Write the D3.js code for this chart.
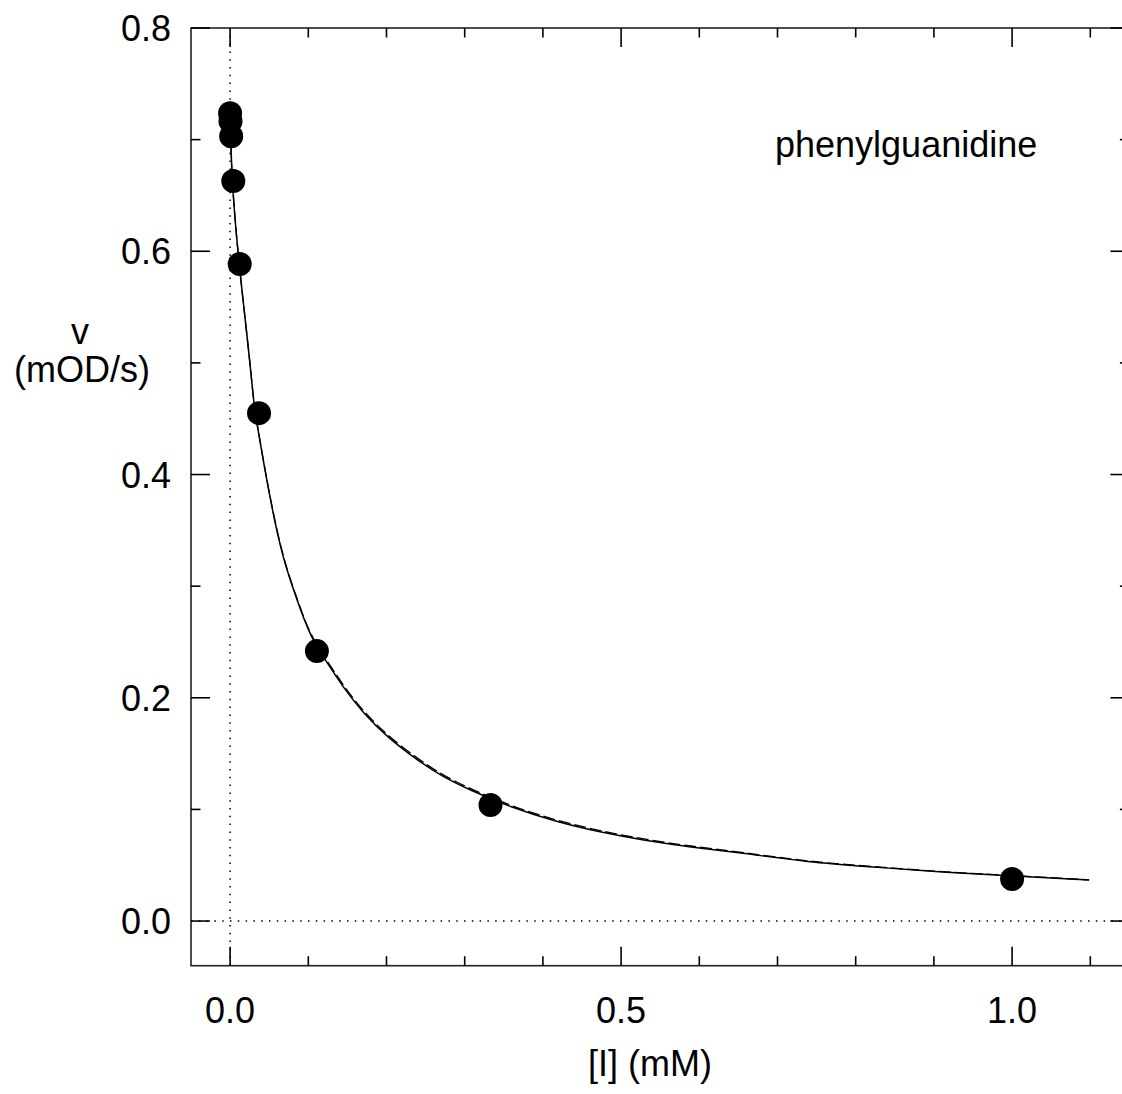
<!DOCTYPE html>
<html>
<head>
<meta charset="utf-8">
<script src="https://cdn.jsdelivr.net/npm/d3@7"></script>
<style>
  body { margin: 0; background: #fff; }
  svg text { font-family: "Liberation Sans", Arial, sans-serif; fill: #000; }
</style>
</head>
<body>
<svg id="chart" width="1122" height="1094"></svg>
<script>
// measured points: inhibitor concentration (mM) vs rate (mOD/s)
var conc = [0, 0.0005, 0.00137, 0.0041, 0.0123, 0.037, 0.111, 0.333, 1.0];
var rate = [0.7237, 0.7165, 0.703, 0.663, 0.5885, 0.455, 0.2418, 0.104, 0.0376];

// fitted curves
var fitX = [0, 0.0013, 0.0026, 0.0075, 0.0115, 0.0137, 0.0256, 0.0307, 0.0358, 0.0512, 0.0678,
  0.0857, 0.1023, 0.1279, 0.1445, 0.1701, 0.2008, 0.2391, 0.2724, 0.3069, 0.3581, 0.4182,
  0.4731, 0.5281, 0.5882, 0.656, 0.7379, 0.8223, 0.9079, 0.9847, 1.0985];
var fitSolid = [0.722, 0.69, 0.663, 0.618, 0.590, 0.574, 0.4998, 0.4604, 0.4398, 0.3771, 0.3233,
  0.2875, 0.2544, 0.2275, 0.2096, 0.1863, 0.1648, 0.1442, 0.129, 0.1173, 0.1021, 0.0887,
  0.0797, 0.0725, 0.0663, 0.0609, 0.0528, 0.0484, 0.0439, 0.0412, 0.0367];
var fitDashed = [0.722, 0.69, 0.663, 0.618, 0.590, 0.574, 0.4998, 0.4606, 0.4402, 0.3778, 0.3243,
  0.2888, 0.2558, 0.2292, 0.2113, 0.1879, 0.1664, 0.1457, 0.1304, 0.1186, 0.1033, 0.0898,
  0.0807, 0.0734, 0.0671, 0.0615, 0.0533, 0.0488, 0.0442, 0.0414, 0.0369];

var xMajor = [0, 0.5, 1.0];
var xMinor = [0.1, 0.2, 0.3, 0.4, 0.6, 0.7, 0.8, 0.9, 1.1];
var yMajor = [0, 0.2, 0.4, 0.6, 0.8];
var yMinor = [0.1, 0.3, 0.5, 0.7];

var svg = d3.select("#chart");
var x = d3.scaleLinear().domain([-0.05, 1.15]).range([191, 1129.4]);
var y = d3.scaleLinear().domain([-0.04, 0.8]).range([965.7, 28]);
var x0 = x.range()[0], x1 = x.range()[1], y0 = y.range()[1], y1 = y.range()[0];

// zero lines (dotted)
svg.append("line").attr("x1", x(0)).attr("x2", x(0)).attr("y1", y0).attr("y2", y1)
  .attr("stroke", "#000").attr("stroke-width", 1.5).attr("stroke-dasharray", "1.5,6.3");
svg.append("line").attr("x1", x0).attr("x2", x1).attr("y1", y(0)).attr("y2", y(0))
  .attr("stroke", "#000").attr("stroke-width", 1.5).attr("stroke-dasharray", "1.5,6.3");

// frame
svg.append("rect").attr("x", x0).attr("y", y0).attr("width", x1 - x0).attr("height", y1 - y0)
  .attr("fill", "none").attr("stroke", "#222").attr("stroke-width", 1.6);

// inward ticks on all four sides
var ticks = svg.append("g").attr("stroke", "#000").attr("stroke-width", 1.6);
function xTicks(vals, len) {
  vals.forEach(function (v) {
    ticks.append("line").attr("x1", x(v)).attr("x2", x(v)).attr("y1", y1).attr("y2", y1 - len);
    ticks.append("line").attr("x1", x(v)).attr("x2", x(v)).attr("y1", y0).attr("y2", y0 + len);
  });
}
function yTicks(vals, len) {
  vals.forEach(function (v) {
    ticks.append("line").attr("y1", y(v)).attr("y2", y(v)).attr("x1", x0).attr("x2", x0 + len);
    ticks.append("line").attr("y1", y(v)).attr("y2", y(v)).attr("x1", x1).attr("x2", x1 - len);
  });
}
xTicks(xMajor, 19); xTicks(xMinor, 9.5);
yTicks(yMajor, 19); yTicks(yMinor, 9.5);

// tick labels
svg.append("g").selectAll("text").data(xMajor).join("text")
  .attr("x", function (d) { return x(d); }).attr("y", 1023)
  .attr("text-anchor", "middle").attr("font-size", 36)
  .text(function (d) { return d3.format(".1f")(d); });
svg.append("g").selectAll("text").data(yMajor).join("text")
  .attr("x", 171).attr("y", function (d) { return y(d) + 13; })
  .attr("text-anchor", "end").attr("font-size", 36)
  .text(function (d) { return d3.format(".1f")(d); });

// axis titles
svg.append("text").attr("x", 650).attr("y", 1076).attr("text-anchor", "middle")
  .attr("font-size", 36).text("[I] (mM)");
svg.append("text").attr("x", 80).attr("y", 344).attr("text-anchor", "middle")
  .attr("font-size", 36).text("v");
svg.append("text").attr("x", 82).attr("y", 382).attr("text-anchor", "middle")
  .attr("font-size", 36).text("(mOD/s)");
svg.append("text").attr("x", 775).attr("y", 157).attr("font-size", 36).text("phenylguanidine");

// fit curves
var line = d3.line().curve(d3.curveBasis);
function path(ys) {
  return line(fitX.map(function (v, i) { return [x(v), y(ys[i])]; }));
}
svg.append("path").attr("d", path(fitDashed)).attr("fill", "none").attr("stroke", "#000")
  .attr("stroke-width", 1.3).attr("stroke-dasharray", "12,4");
svg.append("path").attr("d", path(fitSolid)).attr("fill", "none").attr("stroke", "#000")
  .attr("stroke-width", 1.5);

// data points
svg.append("g").selectAll("circle").data(conc).join("circle")
  .attr("cx", function (d) { return x(d); })
  .attr("cy", function (d, i) { return y(rate[i]); })
  .attr("r", 12).attr("fill", "#000");
</script>
</body>
</html>
